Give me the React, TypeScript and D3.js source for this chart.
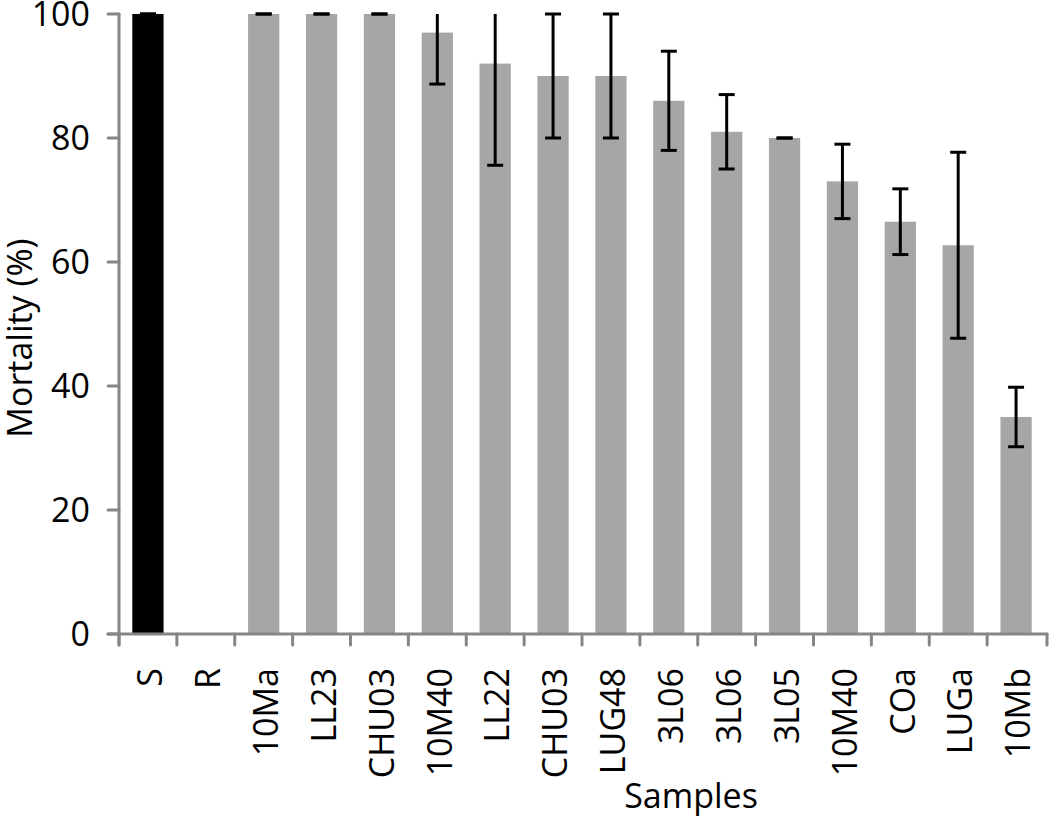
import * as d3 from "d3";

const samples = ["S", "R", "10Ma", "LL23", "CHU03", "10M40", "LL22", "CHU03", "LUG48", "3L06", "3L06", "3L05", "10M40", "COa", "LUGa", "10Mb"];
const mortality = [100, 0, 100, 100, 100, 97, 92, 90, 90, 86, 81, 80, 73, 66.5, 62.7, 35];
const errors = [0, null, 0, 0, 0, 8.3, 16.4, 10, 10, 8, 6, 0, 6, 5.3, 15, 4.8];
const yTicks = [0, 20, 40, 60, 80, 100];

const W = 1050;
const H = 821;
const left = 119;
const right = 1045;
const top = 14;
const bottom = 634;
const axisColor = "#868686";
const font = "'Open Sans', sans-serif";
const fs = 34;

export default function App() {
  const keys = samples.map((_, i) => String(i));
  const x = d3.scaleBand(keys, [left, right]).paddingInner(0.46).paddingOuter(0.23);
  const xt = d3.scaleBand(keys, [left, right]);
  const y = d3.scaleLinear([0, 100], [bottom, top]);
  const bw = x.bandwidth();

  return (
    <svg width={W} height={H} style={{ position: "absolute", left: 0, top: 0, background: "#fff" }}>
      {mortality.map((v, i) => (
        <rect
          key={"b" + i}
          x={x(String(i))}
          y={y(v)}
          width={bw}
          height={bottom - y(v)}
          fill={i === 0 ? "#000" : "#a6a6a6"}
        />
      ))}
      {mortality.map((v, i) => {
        const e = errors[i];
        if (e === null) return null;
        const cx = (x(String(i)) as number) + bw / 2;
        const hi = v + e;
        const lo = v - e;
        const yHi = y(Math.min(hi, 100));
        const yLo = y(lo);
        return (
          <g key={"e" + i} stroke="#000" strokeWidth={3}>
            <line x1={cx} x2={cx} y1={yHi} y2={yLo} />
            {hi <= 100 && <line x1={cx - 8} x2={cx + 8} y1={y(hi)} y2={y(hi)} />}
            <line x1={cx - 8} x2={cx + 8} y1={yLo} y2={yLo} />
          </g>
        );
      })}
      {/* axes */}
      <g stroke={axisColor} strokeWidth={3} strokeLinecap="round">
        <line x1={left} x2={left} y1={top} y2={bottom + 11} />
        {yTicks.map((t) => (
          <line key={"yt" + t} x1={left - 11} x2={left} y1={y(t)} y2={y(t)} />
        ))}
        <line x1={left - 11} x2={right + 2} y1={bottom} y2={bottom} />
        {keys.map((k) => (
          <line key={"xt" + k} x1={xt(k)} x2={xt(k)} y1={bottom} y2={bottom + 11} />
        ))}
        <line x1={right + 2} x2={right + 2} y1={bottom} y2={bottom + 11} />
      </g>
      {yTicks.map((t) => (
        <text
          key={"yl" + t}
          x={90}
          y={y(t)}
          dy="0.36em"
          textAnchor="end"
          fontFamily={font}
          fontSize={fs}
          fill="#000"
        >
          {t}
        </text>
      ))}
      {samples.map((s, i) => {
        const cx = (x(String(i)) as number) + bw / 2;
        return (
          <text
            key={"xl" + i}
            transform={`translate(${cx + 2},668) rotate(-90)`}
            dy="0.36em"
            textAnchor="end"
            fontFamily={font}
            fontSize={fs}
            fill="#000"
          >
            {s}
          </text>
        );
      })}
      <text
        transform={`translate(20,338) rotate(-90)`}
        dy="0.36em"
        textAnchor="middle"
        fontFamily={font}
        fontSize={fs}
        fill="#000"
      >
        Mortality (%)
      </text>
      <text x={691} y={808} textAnchor="middle" fontFamily={font} fontSize={fs} fill="#000">
        Samples
      </text>
    </svg>
  );
}
